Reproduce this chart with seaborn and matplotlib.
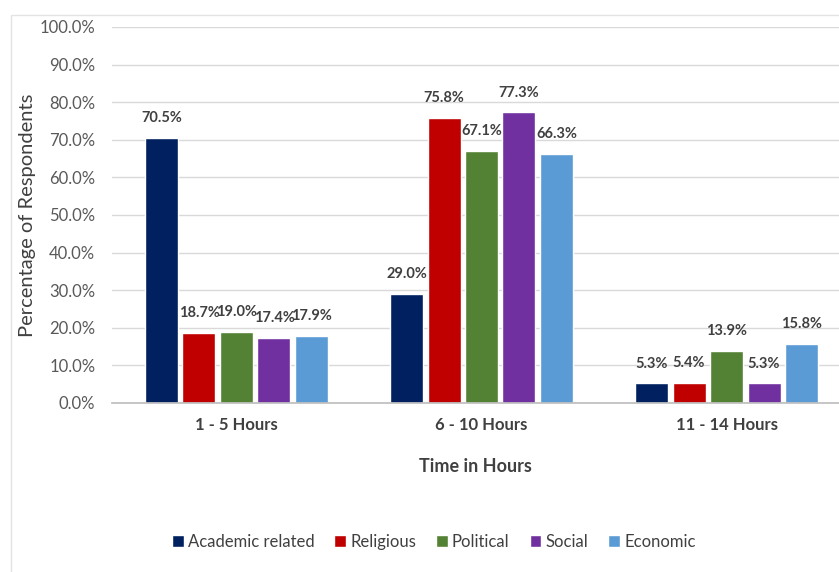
import matplotlib
matplotlib.use("Agg")
import matplotlib.pyplot as plt
import seaborn as sns
import pandas as pd
from matplotlib.patches import Rectangle
from matplotlib.ticker import FuncFormatter

# Survey data: share of respondents by hours spent and content type
time_groups = ["1 - 5 Hours", "6 - 10 Hours", "11 - 14 Hours"]
content_types = ["Academic related", "Religious", "Political", "Social", "Economic"]
academic = [70.5, 29.0, 5.3]
religious = [18.7, 75.8, 5.4]
political = [19.0, 67.1, 13.9]
social = [17.4, 77.3, 5.3]
economic = [17.9, 66.3, 15.8]

palette = ["#002060", "#C00000", "#548235", "#7030A0", "#5B9BD5"]

rows = []
for ctype, vals in zip(content_types, [academic, religious, political, social, economic]):
    for grp, v in zip(time_groups, vals):
        rows.append({"Time": grp, "Type": ctype, "Pct": v})
df = pd.DataFrame(rows)

sns.set_theme(style="white")
plt.rcParams["font.family"] = ["Lato", "DejaVu Sans"]

fig = plt.figure(figsize=(8.39, 5.72), dpi=100)
ax = fig.add_axes([112 / 839, 0.2955, 727 / 839, 0.6573])

sns.barplot(data=df, x="Time", y="Pct", hue="Type", order=time_groups,
            hue_order=content_types, palette=palette, width=0.765, gap=0.12,
            saturation=1, ax=ax, legend=True)

ax.set_ylim(0, 100)
ax.set_xlim(-0.508, 2.459)
ax.set_yticks(range(0, 101, 10))
ax.yaxis.set_major_formatter(FuncFormatter(lambda v, p: f"{v:.1f}%"))
ax.grid(axis="y", color="#d9d9d9", linewidth=1)
ax.set_axisbelow(True)
for side in ["top", "right", "left"]:
    ax.spines[side].set_visible(False)
ax.spines["bottom"].set_color("#bfbfbf")
ax.tick_params(axis="y", labelsize=12, labelcolor="#595959", length=0, pad=12)
ax.tick_params(axis="x", labelsize=12, labelcolor="#404040", length=0, pad=10)
for lbl in ax.get_xticklabels():
    lbl.set_fontweight("bold")

ax.set_ylabel("Percentage of Respondents", fontsize=14.5, color="#404040")
ax.yaxis.set_label_coords(-0.1045, 0.5)
ax.set_xlabel("Time in Hours", fontsize=13, color="#404040", fontweight="bold", labelpad=18)

for container in ax.containers:
    ax.bar_label(container, labels=[f"{v:.1f}%" for v in container.datavalues],
                 padding=9, fontsize=10.5, fontweight="bold", color="#404040")

handles, labels = ax.get_legend_handles_labels()
ax.legend_.remove()
fig.legend(handles, labels, loc="center", bbox_to_anchor=(0.517, 0.053), ncol=5,
           frameon=False, fontsize=12, handlelength=0.7, handleheight=0.8,
           handletextpad=0.25, columnspacing=1.2, labelcolor="#404040")

# light chart-area frame
fig.patches.append(Rectangle((11 / 839, -0.01), 1.0, 1 - 15 / 572 + 0.01,
                             transform=fig.transFigure, fill=False,
                             edgecolor="#e3e3e3", linewidth=1))

fig.savefig("out.png", dpi=100)
